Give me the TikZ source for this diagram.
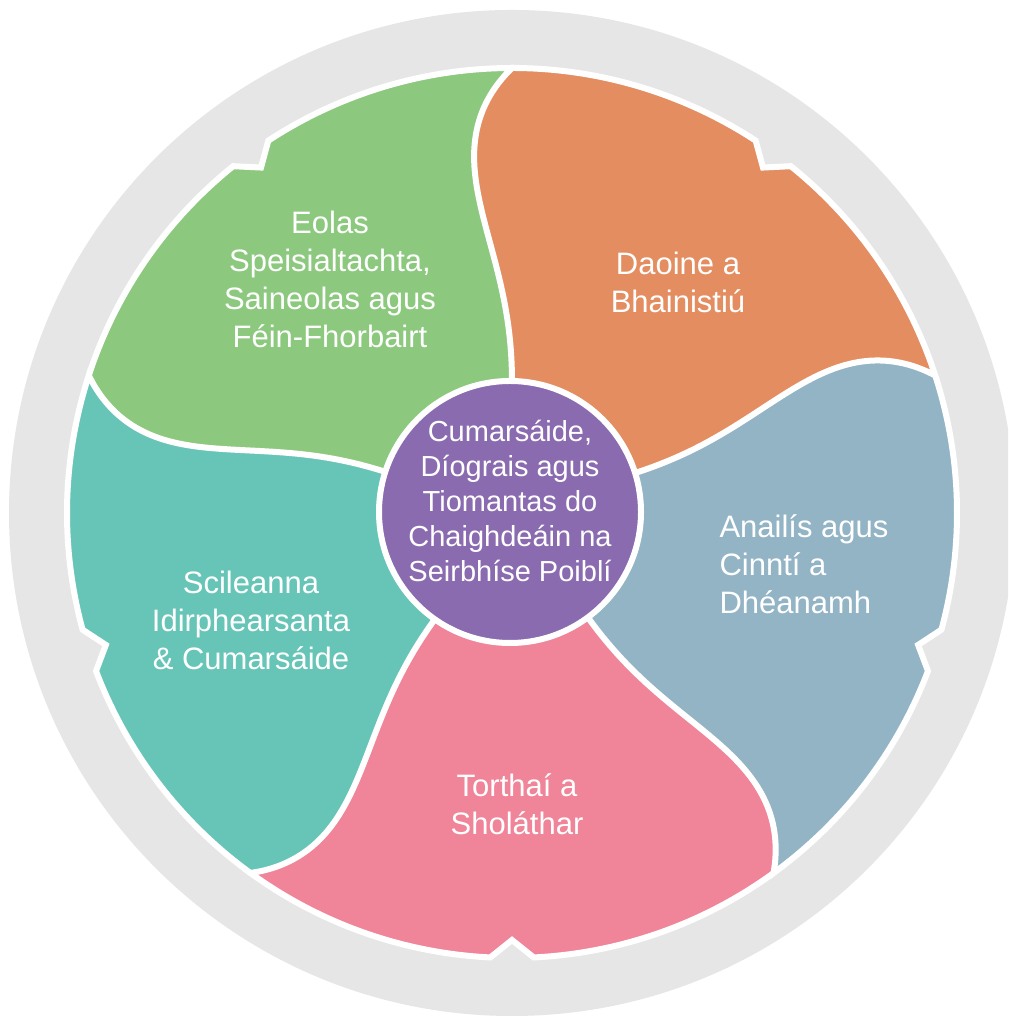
\documentclass[tikz,border=0pt]{standalone}
\usepackage{fontspec}
\setmainfont{Liberation Sans}
\definecolor{cGreen}{HTML}{8CC97E}
\definecolor{cOrange}{HTML}{E38D60}
\definecolor{cBlue}{HTML}{93B4C5}
\definecolor{cPink}{HTML}{F08498}
\definecolor{cTeal}{HTML}{67C5B7}
\definecolor{cPurple}{HTML}{8A6BB0}
\definecolor{cRing}{HTML}{E6E6E6}
\begin{document}
\begin{tikzpicture}[x=1pt,y=1pt,
  declare function={F(\r)=42*((\r-130)/315)^2*(1-(\r-130)/315);},
  lbl/.style={text=white,align=center,font=\fontsize{31}{38}\selectfont},
  clbl/.style={text=white,align=center,font=\fontsize{29}{35}\selectfont}]
\useasboundingbox (0,0) rectangle (1008,1016);
\clip (0,0) rectangle (1008,1016);
\fill[white] (0,0) rectangle (1008,1016);
\fill[cRing] (512,503) circle[radius=503];
\begin{scope}[shift={(512,503)}]
  \foreach \a/\col in {90/cGreen,18/cOrange,-54/cBlue,-126/cPink,162/cTeal}{
    \pgfmathsetmacro\pA{\a+33.2}
    \pgfmathsetmacro\pM{\a+36}
    \pgfmathsetmacro\pB{\a+38.8}
    \pgfmathsetmacro\pE{\a+72}
    \fill[\col] (0,0) -- plot[domain=130:445,samples=40,smooth] ({\a+F(\x)}:\x)
      arc[start angle=\a, end angle=\pA, radius=445]
      -- (\pM:427) -- (\pB:445)
      arc[start angle=\pB, end angle=\pE, radius=445]
      -- plot[domain=445:130,samples=40,smooth] ({\pE+F(\x)}:\x) -- cycle;
  }
  \foreach \a in {90,18,-54,-126,162}{
    \pgfmathsetmacro\pA{\a+33.2}
    \pgfmathsetmacro\pM{\a+36}
    \pgfmathsetmacro\pB{\a+38.8}
    \pgfmathsetmacro\pE{\a+72}
    \draw[white,line width=6] (0,0) -- plot[domain=130:445,samples=40,smooth] ({\a+F(\x)}:\x)
      arc[start angle=\a, end angle=\pA, radius=445]
      -- (\pM:427) -- (\pB:445)
      arc[start angle=\pB, end angle=\pE, radius=445];
  }
\end{scope}
\node[circle,fill=cPurple,draw=white,line width=6,minimum size=262,inner sep=0] (hub) at (510,504) {};
\node[clbl] (tHub) at (510,515) {Cumarsáide,\\Díograis agus\\Tiomantas do\\Chaighdeáin na\\Seirbhíse Poiblí};
\node[lbl] (tGreen) at (330,736.5) {Eolas\\Speisialtachta,\\Saineolas agus\\Féin-Fhorbairt};
\node[lbl] (tOrange) at (678,733.5) {Daoine a\\Bhainistiú};
\node[lbl,align=left,anchor=west] (tBlue) at (716,451.5) {Anailís agus\\Cinntí a\\Dhéanamh};
\node[lbl] (tPink) at (517,211.5) {Torthaí a\\Sholáthar};
\node[lbl] (tTeal) at (251,396) {Scileanna\\Idirphearsanta\\\& Cumarsáide};
\end{tikzpicture}
\end{document}
